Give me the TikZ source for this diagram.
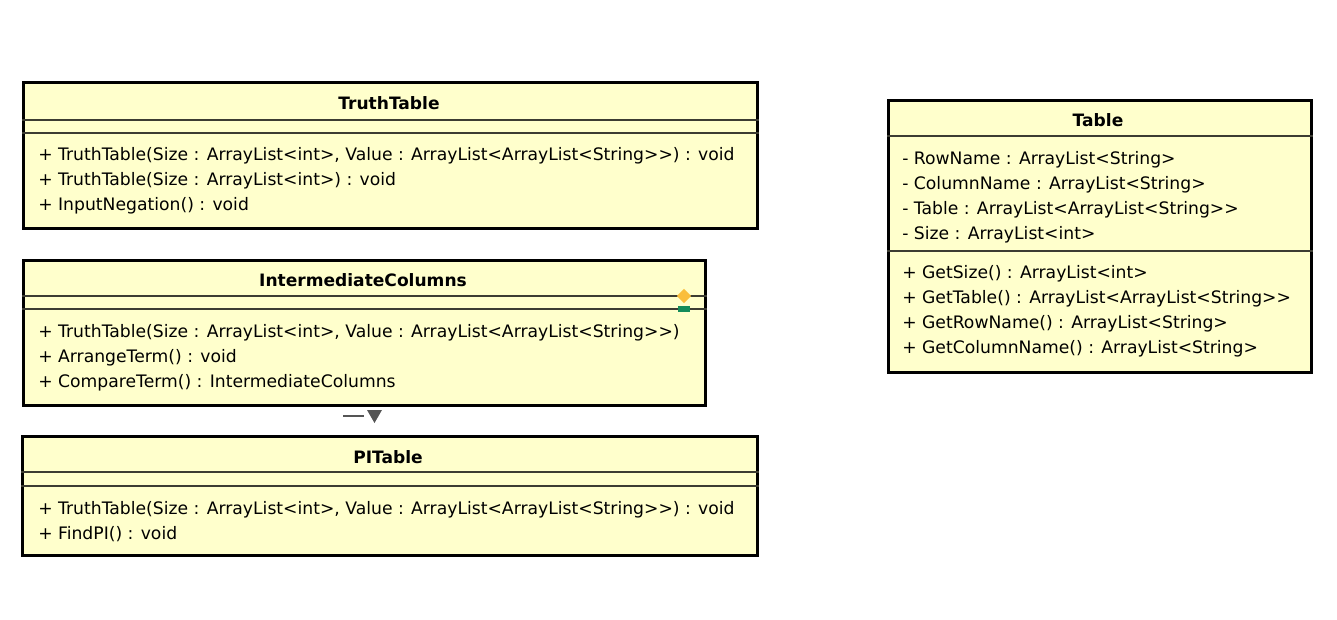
\documentclass[tikz,border=0pt]{standalone}
\usepackage{fontspec}
\setmainfont{DejaVu Sans}
\usetikzlibrary{shapes.geometric, positioning}

\definecolor{umlfill}{RGB}{255,255,204}
\definecolor{umlline}{RGB}{60,60,50}
\definecolor{keyorange}{RGB}{250,190,60}
\definecolor{keygreen}{RGB}{20,140,90}
\definecolor{markgray}{RGB}{85,85,85}

\begin{document}
\begin{tikzpicture}[x=0.75pt, y=-0.75pt,
    classbox/.style = {draw, line width=2.2pt, fill=umlfill, anchor=north west, inner sep=0},
    classname/.style = {font=\fontsize{12.8}{15}\selectfont\bfseries},
    members/.style = {font=\fontsize{12.9}{18.75}\selectfont, align=left, anchor=west, inner sep=0},
    divider/.style = {umlline, line width=1.1pt}]

\useasboundingbox (0,0) rectangle (1337,620);

% TruthTable
\node[classbox, minimum width=550.5pt, minimum height=109.5pt] at (22,81) (tt){};
\node[classname] at (389,103) (tt-name){TruthTable};
\draw[divider] (tt.west |- 0,120) -- (tt.east |- 0,120);
\draw[divider] (tt.west |- 0,133) -- (tt.east |- 0,133);
\node[members] at (38,181) (tt-ops){+ TruthTable(Size : ArrayList<int>, Value : ArrayList<ArrayList<String>{}>) : void\\
+ TruthTable(Size : ArrayList<int>) : void\\
+ InputNegation() : void};

% IntermediateColumns
\node[classbox, minimum width=511.5pt, minimum height=108.75pt] at (22,259) (ic){};
\node[classname] at (363,280) (ic-name){IntermediateColumns};
\draw[divider] (ic.west |- 0,296) -- (ic.east |- 0,296);
\draw[divider] (ic.west |- 0,309) -- (ic.east |- 0,309);
\node[diamond, fill=keyorange, inner sep=0, minimum size=11pt] at (684,296) (ic-attr){};
\node[rectangle, fill=keygreen, inner sep=0, minimum width=9pt, minimum height=5pt] at (684,309) (ic-op){};
\node[members] at (38,358) (ic-ops){+ TruthTable(Size : ArrayList<int>, Value : ArrayList<ArrayList<String>{}>)\\
+ ArrangeTerm() : void\\
+ CompareTerm() : IntermediateColumns};

% marker between the boxes
\coordinate (mk-a) at (343,416);
\coordinate (mk-b) at (364,416);
\draw[markgray, line width=1.6pt] (mk-a) -- (mk-b);
\fill[markgray] (367,410) -- (382,410) -- (374.5,423) -- cycle;

% PITable
\node[classbox, minimum width=551.25pt, minimum height=89.25pt] at (21,435) (pi){};
\node[classname] at (388,457) (pi-name){PITable};
\draw[divider] (pi.west |- 0,472) -- (pi.east |- 0,472);
\draw[divider] (pi.west |- 0,486) -- (pi.east |- 0,486);
\node[members] at (38,521.5) (pi-ops){+ TruthTable(Size : ArrayList<int>, Value : ArrayList<ArrayList<String>{}>) : void\\
+ FindPI() : void};

% Table
\node[classbox, minimum width=317.25pt, minimum height=204pt] at (887,99) (tb){};
\node[classname] at (1098,120) (tb-name){Table};
\draw[divider] (tb.west |- 0,136) -- (tb.east |- 0,136);
\node[members] at (902,197.5) (tb-attrs){- RowName : ArrayList<String>\\
- ColumnName : ArrayList<String>\\
- Table : ArrayList<ArrayList<String>{}>\\
- Size : ArrayList<int>};
\draw[divider] (tb.west |- 0,251) -- (tb.east |- 0,251);
\node[members] at (902,311.5) (tb-ops){+ GetSize() : ArrayList<int>\\
+ GetTable() : ArrayList<ArrayList<String>{}>\\
+ GetRowName() : ArrayList<String>\\
+ GetColumnName() : ArrayList<String>};

\end{tikzpicture}
\end{document}
